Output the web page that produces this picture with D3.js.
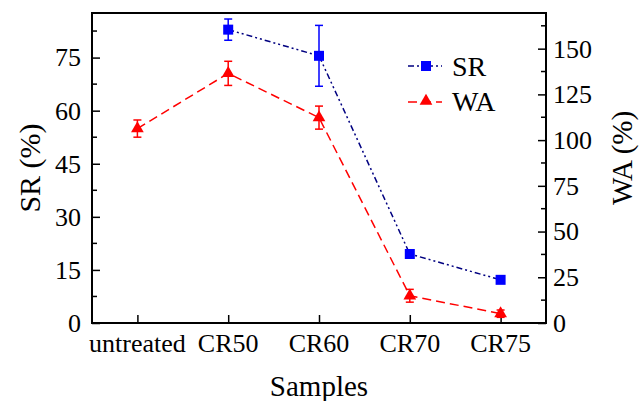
<!DOCTYPE html>
<html>
<head>
<meta charset="utf-8">
<script src="https://cdn.jsdelivr.net/npm/d3@7"></script>
<style>
  body { margin: 0; background: #fff; }
  svg text { font-family: "Liberation Serif", "Times New Roman", Times, "DejaVu Serif", serif; fill: #000; }
</style>
</head>
<body>
<div id="chart"></div>
<script>
const width = 641;
const height = 401;
const margin = {top: 13, right: 95, bottom: 78, left: 92};

// data
const categories = ["untreated", "CR50", "CR60", "CR70", "CR75"];
const srValues = [null, 82.9, 75.5, 19.5, 12.2];
const srErrors = [null, 3.0, 8.6, 0.8, 0.6];
const waValues = [106.3, 136.5, 112.3, 14.9, 5.1];
const waErrors = [4.7, 6.6, 6.3, 3.5, 2.0];
const srTicks = [0, 15, 30, 45, 60, 75];
const srMinorTicks = [7.5, 22.5, 37.5, 52.5, 67.5, 82.5];
const waTicks = [0, 25, 50, 75, 100, 125, 150];
const waMinorTicks = [12.5, 37.5, 62.5, 87.5, 112.5, 137.5, 162.5];

const srColor = "#0000ff";
const srLine = "#000080";
const waColor = "#ff0000";
const serif = "'Liberation Serif', 'Times New Roman', Times, serif";

const svg = d3.create("svg")
    .attr("width", width)
    .attr("height", height)
    .attr("font-family", serif);

const x = d3.scalePoint()
    .domain(categories)
    .range([margin.left, width - margin.right])
    .padding(0.5);

const ySR = d3.scaleLinear()
    .domain([0, 87.6])
    .range([height - margin.bottom, margin.top]);

const yWA = d3.scaleLinear()
    .domain([0, 169.5])
    .range([height - margin.bottom, margin.top]);

const x0 = margin.left, x1 = width - margin.right;
const yb = height - margin.bottom, yt = margin.top;

// axes (ticks pointing inward)
svg.append("g")
    .attr("transform", `translate(0,${yb})`)
    .call(d3.axisTop(x).tickSize(8).tickFormat(""))
    .call(g => g.select(".domain").remove())
    .call(g => g.selectAll("line").attr("stroke-width", 1.5));

categories.forEach(c => {
    svg.append("text")
        .attr("x", x(c))
        .attr("y", 352)
        .attr("text-anchor", "middle")
        .attr("font-size", "26px")
        .text(c);
});

const leftAxis = svg.append("g")
    .attr("transform", `translate(${x0},0)`);
leftAxis.call(d3.axisRight(ySR).tickValues(srTicks).tickSize(8).tickFormat(""))
    .call(g => g.select(".domain").remove())
    .call(g => g.selectAll("line").attr("stroke-width", 1.5));
leftAxis.selectAll(".minor")
    .data(srMinorTicks)
    .join("line")
    .attr("x1", 0).attr("x2", 5)
    .attr("y1", d => ySR(d)).attr("y2", d => ySR(d))
    .attr("stroke", "#000").attr("stroke-width", 1.5);

srTicks.forEach(t => {
    svg.append("text")
        .attr("x", 81)
        .attr("y", ySR(t))
        .attr("dy", "0.34em")
        .attr("text-anchor", "end")
        .attr("font-size", "26px")
        .text(t);
});

const rightAxis = svg.append("g")
    .attr("transform", `translate(${x1},0)`);
rightAxis.call(d3.axisLeft(yWA).tickValues(waTicks).tickSize(8).tickFormat(""))
    .call(g => g.select(".domain").remove())
    .call(g => g.selectAll("line").attr("stroke-width", 1.5));
rightAxis.selectAll(".minor")
    .data(waMinorTicks)
    .join("line")
    .attr("x1", 0).attr("x2", -5)
    .attr("y1", d => yWA(d)).attr("y2", d => yWA(d))
    .attr("stroke", "#000").attr("stroke-width", 1.5);

waTicks.forEach(t => {
    svg.append("text")
        .attr("x", 553)
        .attr("y", yWA(t))
        .attr("dy", "0.34em")
        .attr("text-anchor", "start")
        .attr("font-size", "26px")
        .text(t);
});

// frame
svg.append("rect")
    .attr("x", x0).attr("y", yt)
    .attr("width", x1 - x0).attr("height", yb - yt)
    .attr("fill", "none")
    .attr("stroke", "#000")
    .attr("stroke-width", 2);

// axis titles
svg.append("text")
    .attr("transform", "translate(40,168) rotate(-90)")
    .attr("text-anchor", "middle")
    .attr("font-size", "30px")
    .text("SR (%)");

svg.append("text")
    .attr("transform", "translate(632,158) rotate(-90)")
    .attr("text-anchor", "middle")
    .attr("font-size", "29px")
    .text("WA (%)");

svg.append("text")
    .attr("x", (x0 + x1) / 2)
    .attr("y", 396)
    .attr("text-anchor", "middle")
    .attr("font-size", "29px")
    .text("Samples");

// series
const srData = categories.map((c, i) => ({c, v: srValues[i], e: srErrors[i]})).filter(d => d.v != null);
const waData = categories.map((c, i) => ({c, v: waValues[i], e: waErrors[i]}));

function drawErrors(data, y, color) {
    const g = svg.append("g").attr("stroke", color).attr("stroke-width", 1.5).attr("fill", "none");
    data.forEach(d => {
        const top = y(d.v + d.e), bot = y(d.v - d.e), cx = x(d.c);
        g.append("line").attr("x1", cx).attr("x2", cx).attr("y1", top).attr("y2", bot);
        g.append("line").attr("x1", cx - 4).attr("x2", cx + 4).attr("y1", top).attr("y2", top);
        g.append("line").attr("x1", cx - 4).attr("x2", cx + 4).attr("y1", bot).attr("y2", bot);
    });
}

const line = y => d3.line().x(d => x(d.c)).y(d => y(d.v));

svg.append("path")
    .datum(waData)
    .attr("d", line(yWA))
    .attr("fill", "none")
    .attr("stroke", waColor)
    .attr("stroke-width", 1.5)
    .attr("stroke-dasharray", "9,5");

svg.append("path")
    .datum(srData)
    .attr("d", line(ySR))
    .attr("fill", "none")
    .attr("stroke", srLine)
    .attr("stroke-width", 1.5)
    .attr("stroke-dasharray", "6,3,2,3,2,3");

drawErrors(waData, yWA, waColor);
drawErrors(srData, ySR, srColor);

svg.selectAll(".wa-pt")
    .data(waData)
    .join("path")
    .attr("transform", d => `translate(${x(d.c)},${yWA(d.v)})`)
    .attr("d", d3.symbol(d3.symbolTriangle, 70))
    .attr("fill", waColor);

svg.selectAll(".sr-pt")
    .data(srData)
    .join("rect")
    .attr("x", d => x(d.c) - 5)
    .attr("y", d => ySR(d.v) - 5)
    .attr("width", 10).attr("height", 10)
    .attr("fill", srColor);

// legend
const legend = svg.append("g");
legend.append("line")
    .attr("x1", 408).attr("x2", 442).attr("y1", 66).attr("y2", 66)
    .attr("stroke", srLine).attr("stroke-width", 1.5)
    .attr("stroke-dasharray", "6,3,2,3,2,3");
legend.append("rect")
    .attr("x", 421).attr("y", 61).attr("width", 10).attr("height", 10)
    .attr("fill", srColor);
legend.append("text")
    .attr("x", 452).attr("y", 76)
    .attr("font-size", "28px")
    .text("SR");

legend.append("line")
    .attr("x1", 408).attr("x2", 442).attr("y1", 102).attr("y2", 102)
    .attr("stroke", waColor).attr("stroke-width", 1.5)
    .attr("stroke-dasharray", "9,5");
legend.append("path")
    .attr("transform", "translate(426,101)")
    .attr("d", d3.symbol(d3.symbolTriangle, 70))
    .attr("fill", waColor);
legend.append("text")
    .attr("x", 452).attr("y", 111)
    .attr("font-size", "28px")
    .text("WA");

d3.select("#chart").append(() => svg.node());
</script>
</body>
</html>
